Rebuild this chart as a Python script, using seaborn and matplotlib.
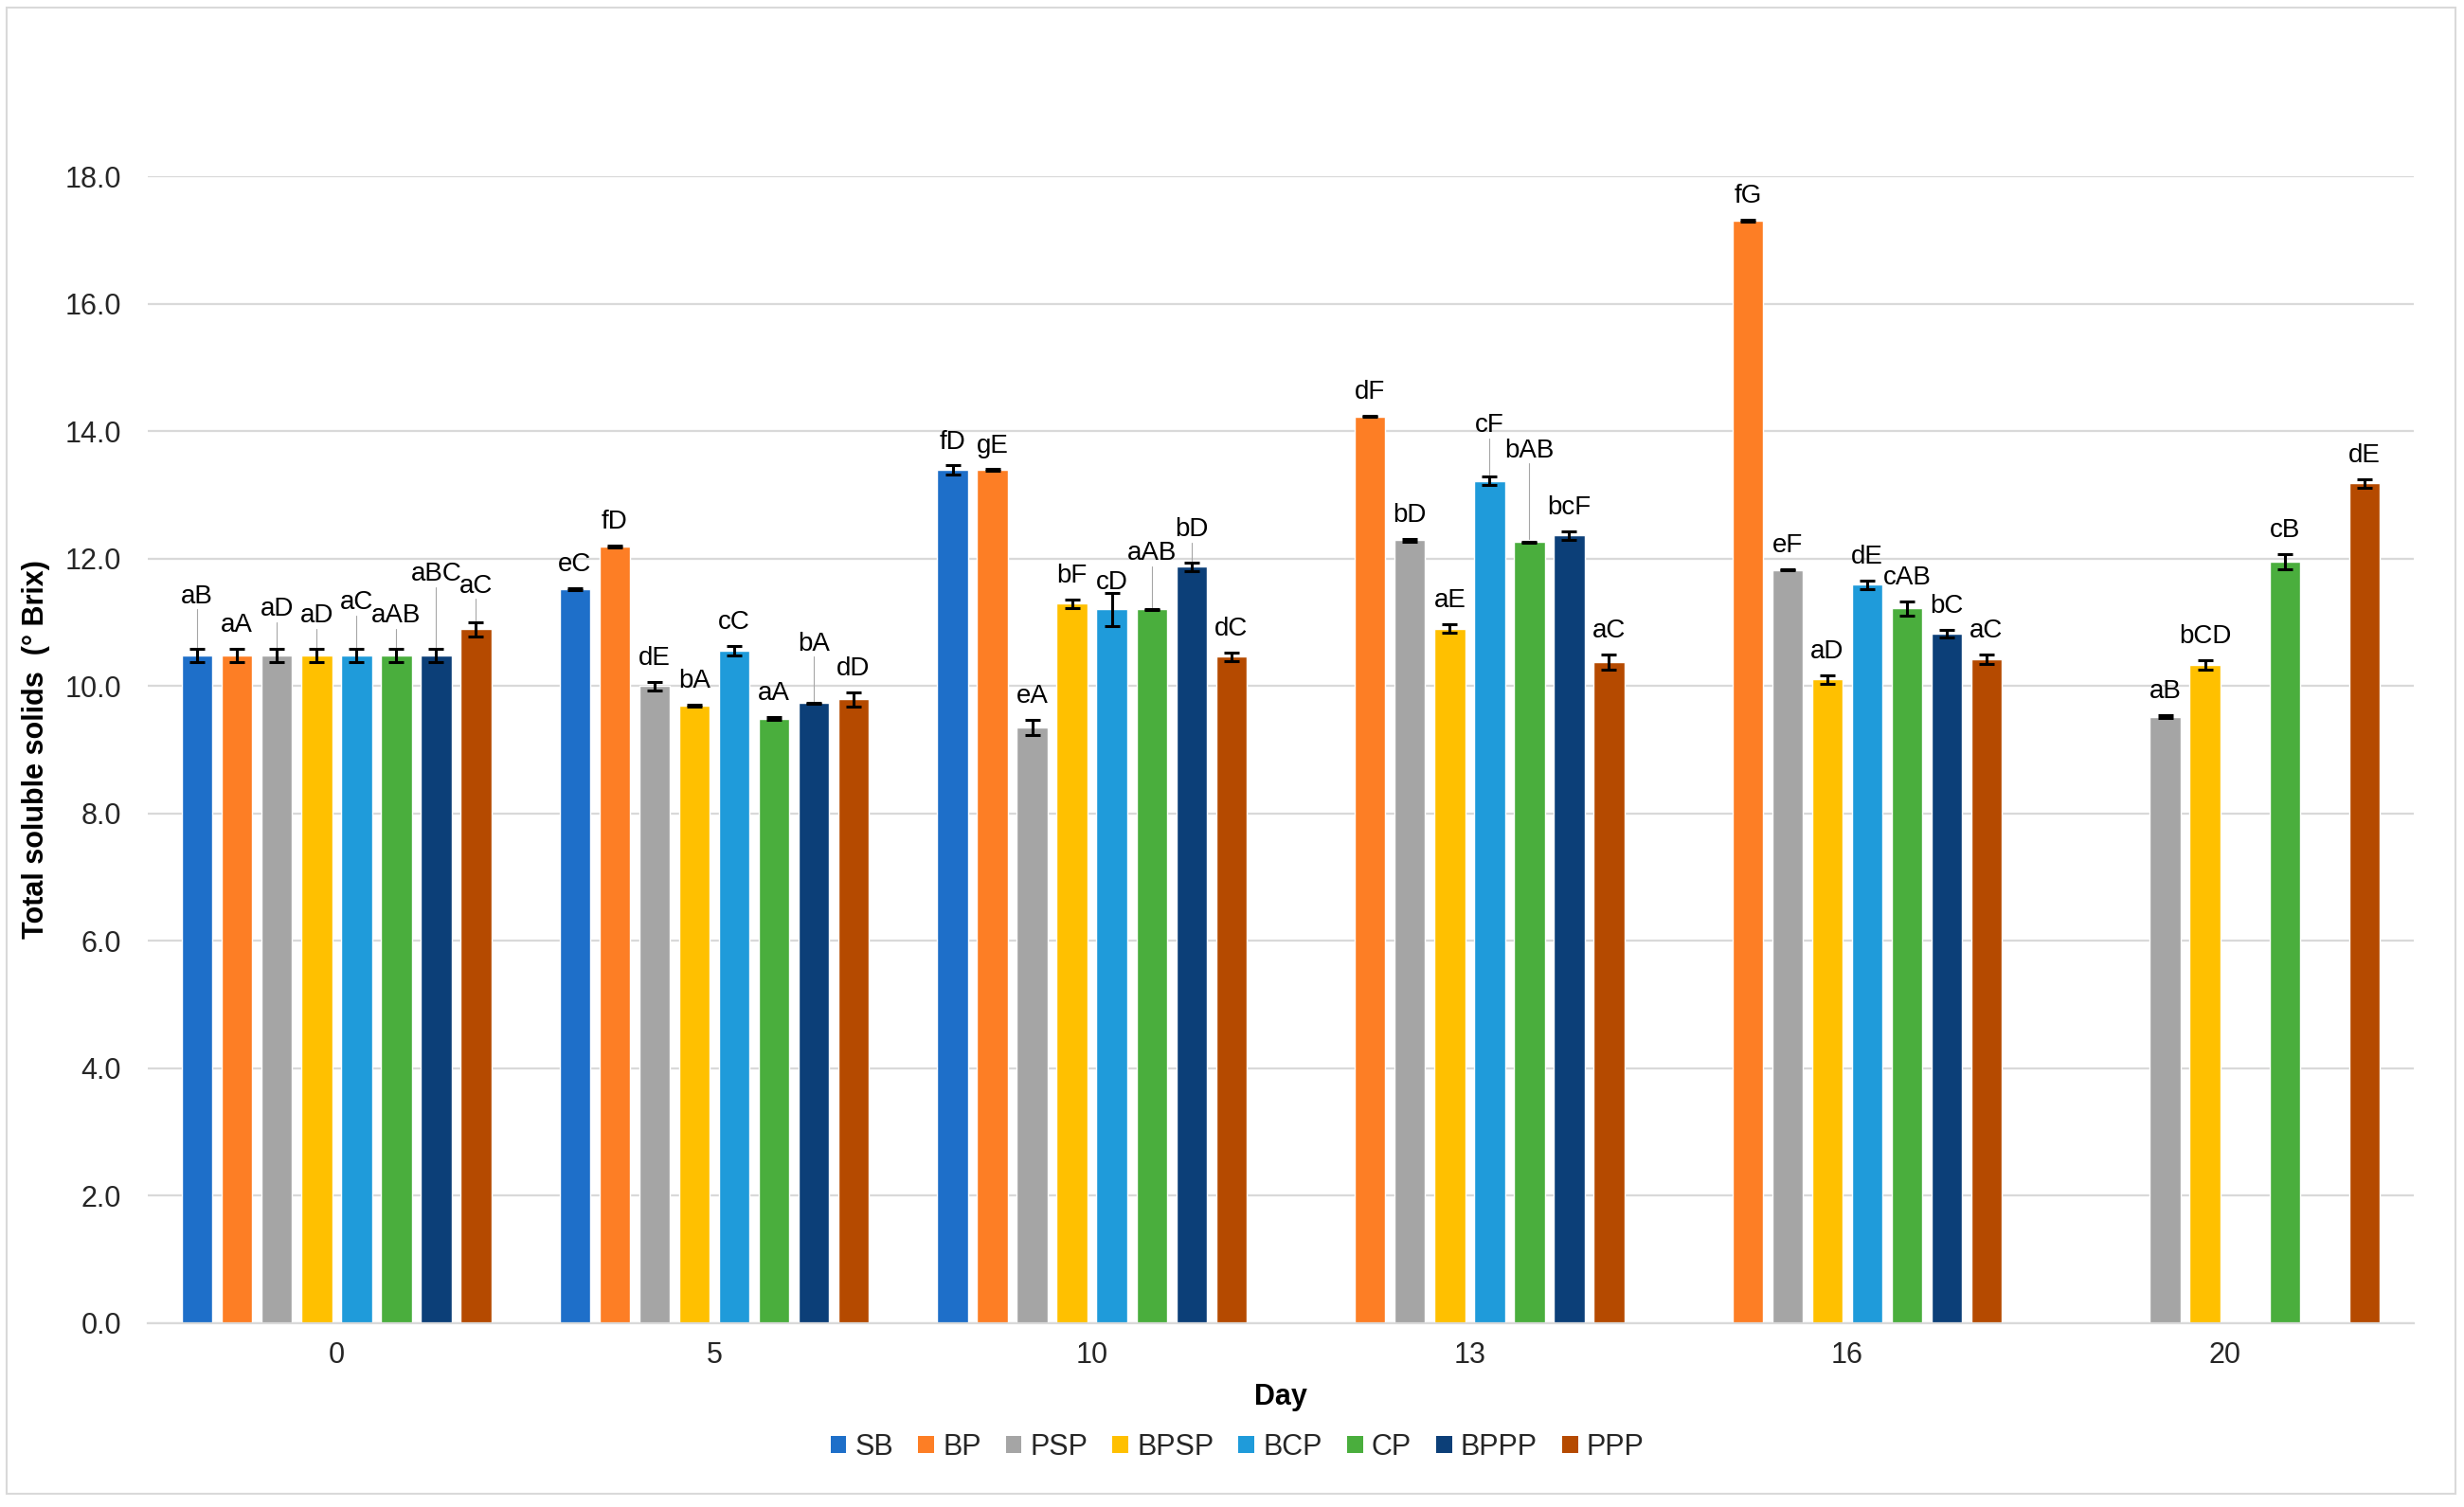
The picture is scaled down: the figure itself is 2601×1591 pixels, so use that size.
import numpy as np
import pandas as pd
import seaborn as sns
import matplotlib
matplotlib.use('Agg')
import matplotlib.pyplot as plt
from matplotlib.patches import Patch, Rectangle
from matplotlib.colors import to_rgb

nan = np.nan

days = ['0', '5', '10', '13', '16', '20']
treatments = ['SB', 'BP', 'PSP', 'BPSP', 'BCP', 'CP', 'BPPP', 'PPP']
colors = ['#1e6fc9', '#fd7e25', '#a5a5a5', '#ffc000',
          '#1f9bda', '#4aae3d', '#0c3f78', '#b54a00']

# mean total soluble solids (deg Brix) per day, nan = not measured
mean_SB = [10.48, 11.52, 13.39, nan, nan, nan]
mean_BP = [10.48, 12.19, 13.39, 14.23, 17.30, nan]
mean_PSP = [10.48, 10.00, 9.35, 12.29, 11.82, 9.52]
mean_BPSP = [10.48, 9.69, 11.29, 10.90, 10.10, 10.33]
mean_BCP = [10.48, 10.56, 11.20, 13.22, 11.59, nan]
mean_CP = [10.48, 9.49, 11.20, 12.26, 11.22, 11.95]
mean_BPPP = [10.48, 9.73, 11.87, 12.36, 10.82, nan]
mean_PPP = [10.89, 9.79, 10.46, 10.38, 10.42, 13.18]

# error bar half widths
err_SB = [0.10, 0.02, 0.07, nan, nan, nan]
err_BP = [0.10, 0.02, 0.01, 0.01, 0.02, nan]
err_PSP = [0.10, 0.07, 0.12, 0.02, 0.01, 0.02]
err_BPSP = [0.10, 0.02, 0.07, 0.065, 0.07, 0.07]
err_BCP = [0.10, 0.075, 0.26, 0.07, 0.065, nan]
err_CP = [0.10, 0.02, 0.01, 0.01, 0.11, 0.12]
err_BPPP = [0.10, 0.01, 0.065, 0.07, 0.065, nan]
err_PPP = [0.11, 0.11, 0.065, 0.12, 0.07, 0.065]

# significance letters
lab_SB = ['aB', 'eC', 'fD', '', '', '']
lab_BP = ['aA', 'fD', 'gE', 'dF', 'fG', '']
lab_PSP = ['aD', 'dE', 'eA', 'bD', 'eF', 'aB']
lab_BPSP = ['aD', 'bA', 'bF', 'aE', 'aD', 'bCD']
lab_BCP = ['aC', 'cC', 'cD', 'cF', 'dE', '']
lab_CP = ['aAB', 'aA', 'aAB', 'bAB', 'cAB', 'cB']
lab_BPPP = ['aBC', 'bA', 'bD', 'bcF', 'bC', '']
lab_PPP = ['aC', 'dD', 'dC', 'aC', 'aC', 'dE']

means = [mean_SB, mean_BP, mean_PSP, mean_BPSP, mean_BCP, mean_CP, mean_BPPP, mean_PPP]
errs = [err_SB, err_BP, err_PSP, err_BPSP, err_BCP, err_CP, err_BPPP, err_PPP]
labs = [lab_SB, lab_BP, lab_PSP, lab_BPSP, lab_BCP, lab_CP, lab_BPPP, lab_PPP]

rows = []
for t, m, e, l in zip(treatments, means, errs, labs):
    for d, v, s, txt in zip(days, m, e, l):
        if not np.isnan(v):
            rows.append(dict(day=d, treatment=t, tss=v, err=s, letters=txt))
df = pd.DataFrame(rows)

# labels that Excel pushed up (with a leader line)
label_lift = {('0', 'SB'): 0.45, ('0', 'PSP'): 0.25, ('0', 'BPSP'): 0.15,
              ('0', 'BCP'): 0.36, ('0', 'CP'): 0.15, ('0', 'BPPP'): 0.8,
              ('0', 'PPP'): 0.2, ('5', 'BPPP'): 0.55, ('10', 'BCP'): -0.21,
              ('10', 'CP'): 0.5, ('10', 'BPPP'): 0.15, ('13', 'BCP'): 0.43,
              ('13', 'CP'): 1.05}

sns.set_theme(style='white')
plt.rcParams['font.family'] = ['Liberation Sans', 'DejaVu Sans']

W, H = 2601, 1591
fig = plt.figure(figsize=(W / 100, H / 100), dpi=100)
ax = fig.add_axes([156 / W, 1 - 1397 / H, 2392 / W, 1211 / H])

sns.barplot(data=df, x='day', y='tss', hue='treatment', order=days,
            hue_order=treatments, palette=colors, width=0.843, gap=0.23,
            saturation=1, errorbar=None, legend=False, ax=ax, zorder=2)

# error bars + letters, placed from the bars seaborn drew
rgb = [to_rgb(c) for c in colors]
for p in ax.patches:
    fc = p.get_facecolor()[:3]
    ti = int(np.argmin([sum((a - b) ** 2 for a, b in zip(fc, c)) for c in rgb]))
    xc = p.get_x() + p.get_width() / 2
    d = days[int(round(xc))]
    row = df[(df.day == d) & (df.treatment == treatments[ti])].iloc[0]
    top = p.get_height()
    ax.errorbar(xc, top, yerr=row.err, fmt='none', ecolor='black',
                elinewidth=2.2, capsize=5.5, capthick=2.2, zorder=3)
    lift = label_lift.get((d, treatments[ti]), 0.0)
    ly = top + row.err + 0.37 + lift
    ax.text(xc, ly, row.letters, ha='center', va='center', fontsize=20,
            color='black', zorder=4)
    if lift >= 0.15:
        ax.plot([xc, xc], [top + row.err + 0.03, ly - 0.2], color='#a6a6a6',
                lw=0.8, zorder=1)

ax.set_xlim(-0.5, len(days) - 0.5)
ax.set_ylim(0, 18)
ax.set_yticks(np.arange(0, 18.1, 2))
ax.set_yticklabels([f'{v:.1f}' for v in np.arange(0, 18.1, 2)])
ax.yaxis.grid(True, color='#d9d9d9', lw=1.6)
ax.set_axisbelow(True)
for s in ['top', 'left', 'right']:
    ax.spines[s].set_visible(False)
ax.spines['bottom'].set_color('#d9d9d9')
ax.spines['bottom'].set_linewidth(1.6)
ax.tick_params(axis='both', length=0, labelsize=22, colors='#262626')
ax.tick_params(axis='y', pad=20)
ax.tick_params(axis='x', pad=14)

ax.set_xlabel('Day', fontsize=22, fontweight='bold', color='black')
ax.set_ylabel('Total soluble solids  (° Brix)', fontsize=22, fontweight='bold',
              color='black')
ax.xaxis.set_label_coords(0.5, -0.052)
ax.yaxis.set_label_coords(-0.043, 0.5)

handles = [Patch(facecolor=c, edgecolor='none') for c in colors]
fig.legend(handles, treatments, loc='center', ncol=8,
           bbox_to_anchor=(1306 / W, 1 - 1528 / H), frameon=False,
           fontsize=22, handlelength=0.55, handleheight=0.55,
           handletextpad=0.3, columnspacing=0.85)

fig.patches.append(Rectangle((7 / W, 1 - 1577 / H), 2585 / W, 1569 / H,
                             transform=fig.transFigure, fill=False,
                             edgecolor='#d9d9d9', lw=1.5))

fig.savefig('out.png', dpi=100)
